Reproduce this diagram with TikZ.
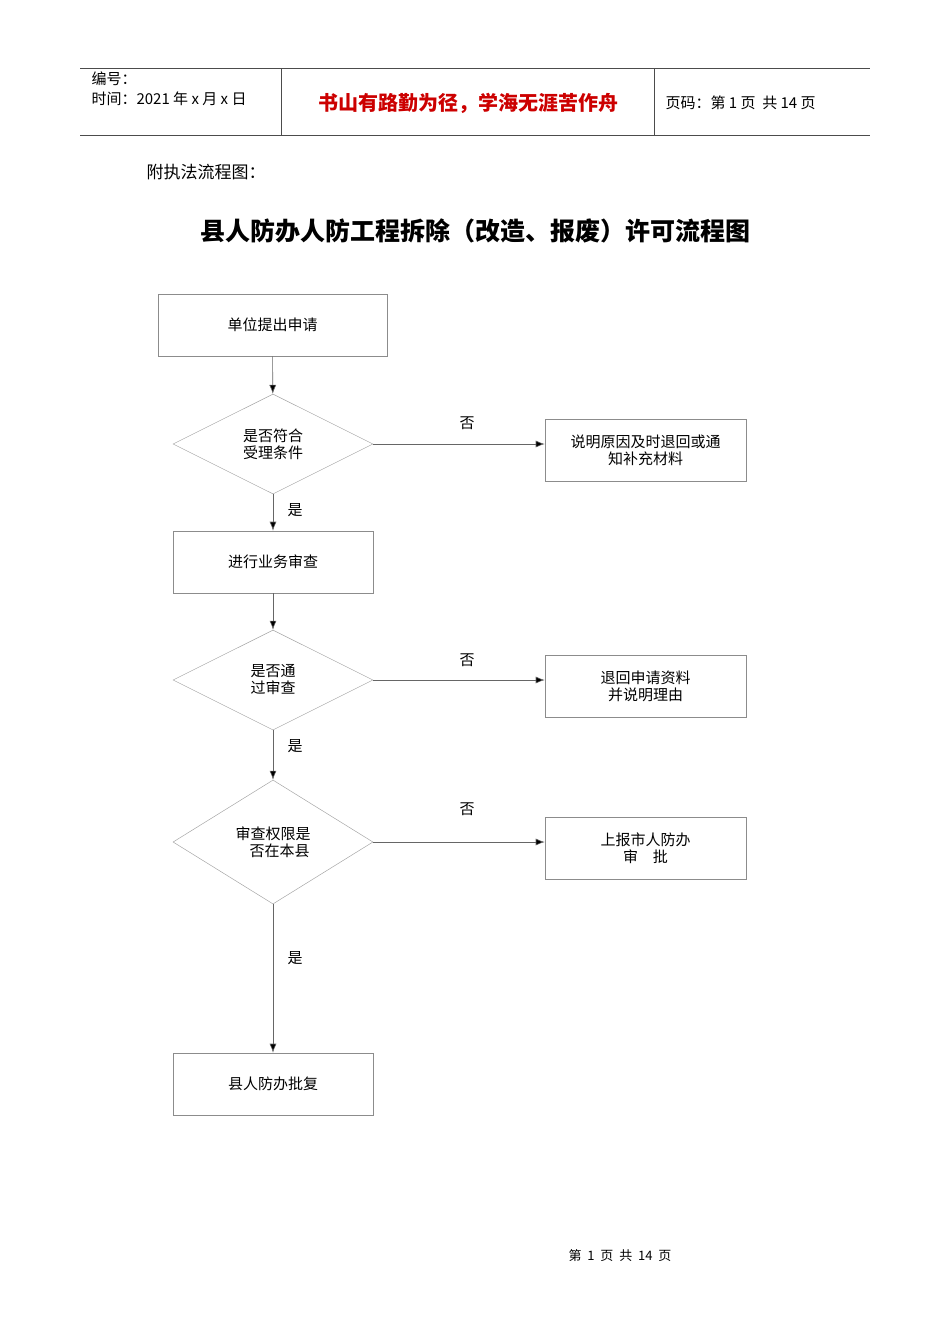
\documentclass[tikz,border=0pt]{standalone}
\usepackage{fontspec}
\setmainfont{Noto Sans CJK SC}
\usetikzlibrary{shapes.geometric,arrows.meta}
\begin{document}
\begin{tikzpicture}[x=1pt,y=-1pt,
 box/.style={draw=black!45,line width=0.6pt,minimum width=#1,minimum height=62pt,align=center,font=\fontsize{15}{17}\selectfont,inner sep=0pt},
 box/.default=200pt,
 dia/.style={draw=black!35,line width=0.5pt,diamond,minimum width=200pt,minimum height=#1,aspect=2,align=center,font=\fontsize{15}{17}\selectfont,inner sep=0pt},
 arr/.style={draw=black!60,line width=0.6pt,-{Latex[length=9pt,width=7pt,fill=black]}},
 lab/.style={font=\fontsize{15}{17}\selectfont}]
\useasboundingbox (0,0) rectangle (950,1344);
% header
\draw[black!70,line width=0.8pt] (80,68) -- (870,68) (80,135) -- (870,135) (281,68) -- (281,135) (654,68) -- (654,135);
\node[anchor=west,font=\fontsize{15}{17}\selectfont] (h1) at (88,79) {编号：};
\node[anchor=west,font=\fontsize{15}{17}\selectfont] (h2) at (88,99) {时间：2021 年 x 月 x 日};
\node[font=\fontsize{20}{22}\selectfont\bfseries,text=red!80!black] (h3) at (468,103) {书山有路勤为径，学海无涯苦作舟};
\node[anchor=west,font=\fontsize{15}{17}\selectfont] (h4) at (662,103) {页码：第 1 页\ \ 共 14 页};
\node[anchor=west,font=\fontsize{17}{19}\selectfont] (h5) at (143,172) {附执法流程图：};
\node[font=\fontsize{25}{27}\selectfont\bfseries] (title) at (475,231) {县人防办人防工程拆除（改造、报废）许可流程图};
% flow
\node[box=229pt] (b1) at (272.5,325) {单位提出申请};
\node[dia=100pt] (d1) at (273,444) {是否符合\\受理条件};
\node[box=201pt] (r1) at (645.5,450) {说明原因及时退回或通\\知补充材料};
\node[box] (b2) at (273,562) {进行业务审查};
\node[dia=100pt] (d2) at (273,680) {是否通\\过审查};
\node[box=201pt] (r2) at (645.5,686) {退回申请资料\\并说明理由};
\node[dia=124pt] (d3) at (273,842) {审查权限是\\\ \ \ \ 否在本县};
\node[box=201pt] (r3) at (645.5,848) {上报市人防办\\审\quad 批};
\node[box] (b3) at (273,1084) {县人防办批复};
\draw[arr] (b1) -- (d1);
\draw[arr] (d1) -- (b2);
\draw[arr] (b2) -- (d2);
\draw[arr] (d2) -- (d3);
\draw[arr] (d3) -- (b3);
\draw[arr] (d1.east) -- (d1.east -| r1.west);
\draw[arr] (d2.east) -- (d2.east -| r2.west);
\draw[arr] (d3.east) -- (d3.east -| r3.west);
\node[lab] (n1) at (467,423) {否};
\node[lab] (n2) at (467,660) {否};
\node[lab] (n3) at (467,809) {否};
\node[lab] (y1) at (295,510) {是};
\node[lab] (y2) at (295,746) {是};
\node[lab] (y3) at (295,958) {是};
\node[font=\fontsize{13}{15}\selectfont] (foot) at (620,1256) {第\ \ 1\ \ 页\ \ 共\ \ 14\ \ 页};
\end{tikzpicture}
\end{document}
